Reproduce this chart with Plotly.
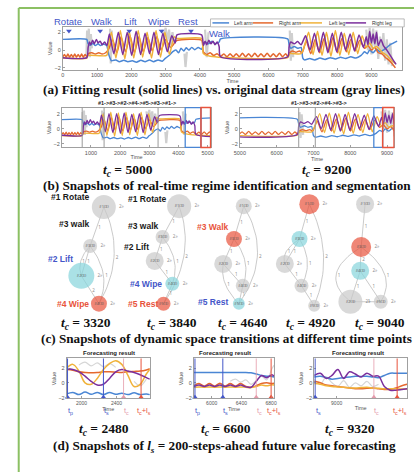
import numpy as np
import plotly.graph_objects as go

W, H = 417, 474

# ---------------- DATA ----------------
A_TIME_TICKS = [0, 1000, 2000, 3000, 4000, 5000, 6000, 7000, 8000, 9000]
B1_TIME_TICKS = [1000, 2000, 3000, 4000, 5000]
B2_TIME_TICKS = [5000, 6000, 7000, 8000, 9000]
D1_TIME_TICKS = [2000, 2400]
D2_TIME_TICKS = [6000, 6400, 6800]
D3_TIME_TICKS = [9000]
VALUE_TICKS = [-2, 0, 2]
SERIES_NAMES = ["Left arm", "Right arm", "Left leg", "Right leg"]

# fitted series (time, value)
left_arm = [(0, 1.2), (700, 1.2), (740, 0.7), (800, 0.55), (880, 0.75), (950, 0.5), (1030, 0.7), (1100, 0.5),
            (1180, 0.65), (1280, 0.5), (1350, -0.6), (1420, -1.2), (1550, -1.1), (1650, -1.3), (1780, -1.15),
            (1900, -1.3), (2030, -1.2), (2150, -1.35), (2280, -1.15), (2400, -1.3), (2530, -1.1), (2650, -1.3),
            (2780, -1.1), (2900, -1.25), (3000, -0.9), (3100, -0.6), (3200, -0.2), (3300, 0.0), (3380, -0.3),
            (3450, 0.2), (3530, -0.1), (3600, 0.25), (3680, 0.0), (3760, 0.3), (3850, 0.05), (3950, 0.3),
            (4050, 0.1), (4100, 0.6), (4150, 0.9), (4250, 0.7), (4350, 1.0), (4450, 0.7), (4560, 0.9),
            (4600, 1.25), (6560, 1.25), (6600, 0.6), (6650, 0.2), (6750, 0.4), (6850, 0.2), (6950, 0.3),
            (7000, -0.9), (7050, -1.1), (7200, -0.95), (7350, -1.1), (7500, -0.9), (7650, -1.05), (7800, -0.85),
            (7950, -1.0), (8100, -0.8), (8250, -0.95), (8400, -0.75), (8550, -0.9), (8700, -0.6), (8800, -0.2),
            (8880, -0.4), (8950, 0.0), (9050, -0.3), (9150, 0.1), (9250, -0.2), (9350, 0.0), (9450, 0.3),
            (9550, 0.6), (9650, 0.8), (9750, 1.0)]
right_arm = [(0, -0.75), (50, -0.5), (100, -0.8), (150, -0.45), (200, -0.8), (250, -0.5), (300, -0.8), (350, -0.45),
             (400, -0.8), (450, -0.5), (500, -0.8), (550, -0.45), (600, -0.8), (650, -0.5), (700, -0.75),
             (750, -0.4), (850, -0.3), (950, -0.45), (1050, -0.3), (1150, -0.45), (1250, -0.3), (1350, 0.2),
             (1450, 1.2), (1580, -0.3), (1700, 1.5), (1830, -0.2), (1960, 1.6), (2090, -0.3), (2220, 1.5),
             (2350, -0.2), (2480, 1.4), (2610, -0.1), (2740, 1.5), (2870, 0.0), (3000, 1.2), (3150, 0.3),
             (3300, 1.0), (3350, 1.1), (4050, 1.1), (4100, -0.2), (4200, -0.5), (4300, -0.3), (4400, -0.6),
             (4500, -0.4), (4600, -0.7), (4700, -0.45), (4790, -0.75), (4880, -0.4), (4970, -0.75), (5060, -0.4),
             (5150, -0.75), (5240, -0.35), (5330, -0.75), (5420, -0.4), (5510, -0.75), (5600, -0.35),
             (5690, -0.75), (5780, -0.4), (5870, -0.75), (5960, -0.35), (6050, -0.75), (6140, -0.4),
             (6230, -0.75), (6320, -0.35), (6410, -0.75), (6500, -0.4), (6560, -0.7), (6620, -0.3), (6700, -0.1),
             (6800, -0.25), (6900, -0.1), (6980, -0.3), (7100, 1.0), (7230, -0.4), (7360, 1.2), (7490, -0.3),
             (7620, 1.3), (7750, -0.2), (7880, 1.4), (8010, -0.3), (8140, 1.3), (8270, -0.2), (8400, 1.2),
             (8530, -0.1), (8660, 1.1), (8800, 0.2), (8900, 0.5), (9000, 0.0), (9100, 0.3), (9200, -0.3),
             (9300, -0.4), (9400, -0.8), (9500, -1.1), (9600, -1.5), (9700, -2.0)]
left_leg = [(0, -0.9), (700, -0.9), (740, -0.6), (1280, -0.6), (1330, 0.5), (1420, 2.0), (1550, -0.9), (1680, 2.2),
            (1810, -1.0), (1940, 2.1), (2070, -0.9), (2200, 2.2), (2330, -0.8), (2460, 2.0), (2590, -0.9),
            (2720, 2.2), (2850, -0.8), (2980, 2.0), (3110, -0.5), (3250, 1.5), (3320, 1.3), (4050, 1.3),
            (4100, -0.4), (4300, -0.7), (6560, -0.85), (6620, -0.4), (6950, -0.4), (7050, 0.5), (7170, 2.0),
            (7300, -0.5), (7430, 2.1), (7560, -0.6), (7690, 2.0), (7820, -0.7), (7950, 2.2), (8080, -0.6),
            (8210, 1.9), (8340, -0.5), (8470, 2.0), (8600, -0.4), (8730, 1.6), (8850, 0.3), (8950, 0.8),
            (9050, 0.2), (9150, 0.4), (9300, -0.2), (9450, -0.6), (9600, -1.2), (9700, -1.5)]
right_leg = [(0, -0.85), (700, -0.85), (740, 0.3), (780, 0.9), (820, 0.6), (870, 1.1), (920, 0.7), (980, 1.2),
             (1030, 0.8), (1090, 1.0), (1150, 0.6), (1220, 0.9), (1290, 0.5), (1360, 1.8), (1490, -0.4),
             (1620, 2.0), (1750, -0.5), (1880, 2.0), (2010, -0.6), (2140, 2.1), (2270, -0.5), (2400, 1.9),
             (2530, -0.4), (2660, 2.0), (2790, -0.5), (2920, 1.9), (3050, -0.2), (3180, 1.6), (3280, 0.8),
             (3330, 1.7), (4050, 1.7), (4100, 0.5), (4150, 1.0), (4200, 0.6), (4260, 1.1), (4320, 0.7),
             (4380, 1.0), (4440, 0.6), (4500, 0.9), (4560, 0.4), (4600, -0.75), (6560, -0.75), (6600, 0.4),
             (6650, 0.9), (6750, 0.7), (6850, 0.95), (6950, 0.6), (7080, 1.6), (7210, 0.0), (7340, 1.9),
             (7470, -0.2), (7600, 2.0), (7730, -0.3), (7860, 1.9), (7990, -0.2), (8120, 2.0), (8250, 0.0),
             (8380, 1.8), (8510, -0.1), (8640, 1.7), (8770, 0.3), (8850, 1.5), (8900, 0.6), (8950, 2.1),
             (9000, 0.8), (9050, 1.8), (9100, 0.7), (9150, 2.0), (9200, 0.5), (9280, 1.2), (9350, 0.5),
             (9450, 0.0), (9550, -0.6), (9650, -1.2), (9720, -1.6)]
# original stream (gray), visible pieces only
raw_stream = [(690, -0.6), (710, 2.2), (730, 0.0), (760, 2.4), (790, -0.8), (820, 1.8), (850, 0.2), (860, None),
              (1380, 2.4), (1400, -1.5), (1430, 2.2), (1440, None),
              (2900, 2.3), (2950, 1.2), (3000, 2.5), (3050, 1.0), (3100, 2.3), (3150, 0.5), (3200, 2.0),
              (3250, 0.8), (3260, None),
              (3550, -0.4), (3580, -1.9), (3620, -0.2), (3630, None),
              (4150, 2.3), (4200, -0.8), (4250, 2.0), (4260, None),
              (6620, 2.2), (6650, -1.2), (6680, 1.9), (6720, -0.8), (6730, None),
              (8850, 2.3), (8900, 0.0), (8950, 2.5), (9000, -0.5), (9050, 2.4), (9100, 0.3), (9150, 2.2),
              (9200, -1.0), (9250, 1.5), (9300, -0.5), (9350, 1.9), (9400, -1.2), (9450, 1.2), (9500, -1.6),
              (9550, 0.8), (9600, -1.8)]

# regime labels of panel (a)
regime_names = ["Rotate", "Walk", "Lift", "Wipe", "Rest"]
regime_label_t = [150, 1140, 1970, 2820, 3650]
regime_arrow_t = [180, 1090, 1940, 2880, 3740]
walk2_label_t = 4560

# panel (b) segmentation
b1_title = "#1->#3->#2->#4->#5->#3->#1->"
b2_title = "#1->#3->#2->#4->#3->"
b1_bounds = [700, 1450, 3300]
b1_blue = [4230, 4770]
b1_red = [4770, 5100]
b2_bounds = [6600, 7050]
b2_blue = [8640, 8880]
b2_red = [8880, 9190]
b_tc = [5000, 9200]

# panel (c) regime-transition graphs (node layout)
c_tc = [3320, 3840, 4640, 4920, 9040]
graphs = [
    dict(x=[100, 86, 77, 95], y=[208, 247, 277, 305], size=[24, 14, 26, 16],
         state=[0, 0, 1, 2], ids=["#1", "#3", "#2", "#4"],
         edges=[(0, 1, 0, 1), (1, 2, 0, 1), (2, 3, 0, 2), (0, 3, 26, 2), (1, 3, 18, 1), (1, 2, -10, 1)]),
    dict(x=[177, 160, 152, 170, 161], y=[207, 238, 262, 285, 305], size=[24, 14, 18, 14, 14],
         state=[0, 0, 0, 1, 2], ids=["#1", "#3", "#2", "#4", "#5"],
         edges=[(0, 1, 0, 1), (1, 2, 0, 1), (2, 3, 0, 1), (3, 4, 0, 1), (0, 4, 26, 2), (1, 3, 14, 1)]),
    dict(x=[243, 233, 222, 242, 238], y=[207, 240, 265, 287, 305], size=[16, 16, 18, 14, 12],
         state=[0, 2, 0, 0, 1], ids=["#1", "#3", "#2", "#4", "#5"],
         edges=[(0, 1, 0, 1), (1, 2, 0, 1), (2, 3, 0, 1), (3, 4, 0, 1), (0, 4, 33, 2), (1, 3, 14, 1),
                (2, 4, -12, 1)]),
    dict(x=[310, 300, 285, 302, 315], y=[205, 240, 265, 287, 307], size=[20, 16, 18, 14, 12],
         state=[2, 1, 0, 0, 0], ids=["#1", "#3", "#2", "#4", "#5"],
         edges=[(0, 1, 0, 1), (1, 2, 0, 1), (2, 3, 0, 1), (3, 4, 0, 1), (0, 4, 24, 2), (1, 3, 14, 1),
                (1, 2, -12, 1)]),
    dict(x=[367, 363, 362, 352, 383], y=[205, 248, 272, 303, 303], size=[18, 20, 18, 24, 14],
         state=[0, 2, 1, 0, 0], ids=["#1", "#3", "#4", "#2", "#5"],
         edges=[(0, 1, 0, 1), (1, 2, 0, 2), (2, 3, 0, 1), (2, 4, 0, 1), (1, 3, -40, 1), (1, 4, 28, 1),
                (3, 4, 0, 1)]),
]
c_labels = [("#1 Rotate", 66, 198, "k"), ("#3 walk", 70, 225, "k"), ("#2 Lift", 56, 260, "b"),
            ("#4 Wipe", 68, 305, "r"),
            ("#1 Rotate", 145, 200, "k"), ("#3 walk", 141, 227, "k"), ("#2 Lift", 133, 248, "k"),
            ("#4 Wipe", 143, 285, "b"), ("#5 Rest", 140, 305, "r"),
            ("#3 Walk", 212, 228, "r"), ("#5 Rest", 212, 303, "b")]

# panel (d) forecasting windows
fc1_t = [1830, 1900, 1970, 2040, 2110, 2180, 2250, 2320, 2390, 2460, 2530, 2600, 2670, 2740, 2780]
fc1_left_arm = [-1.5, -1.3, -1.6, -1.25, -1.55, -1.3, -1.6, -1.3, -1.55, -1.4, -1.6, -1.35, -1.6, -1.5, -1.6]
fc1_right_arm = [1.8, 1.7, 1.5, 1.4, 1.35, 1.4, 1.5, 1.5, 1.45, 1.4, 1.5, 1.55, 1.6, 1.75, 1.9]
fc1_left_leg = [2.0, 2.5, 1.6, 0.0, -0.2, 0.6, 1.8, 2.6, 3.0, 2.5, 1.0, -0.5, -0.2, 1.2, 1.8]
fc1_right_leg = [1.9, 1.8, 1.5, 0.9, 0.2, -0.3, -0.2, 0.6, 1.5, 1.8, 1.6, 1.4, 1.1, 0.7, 0.5]
fc1_raw = [None, None, 2.4, 2.8, 2.3, 2.7, 2.2, 2.6, 2.1, None, None, 0.2, -0.4, 0.5, None]
fc1_marks = [1840, 2250, 2480, 2680]
fc1_mark_kind = ["p", "s", "c", "cl"]

fc2_t = [5760, 5830, 5900, 5970, 6040, 6110, 6180, 6250, 6320, 6390, 6460, 6530, 6600, 6670, 6740, 6810, 6840]
fc2_left_arm = [1.4, 1.4, 1.4, 1.4, 1.4, 1.4, 1.4, 1.4, 1.4, 1.4, 1.4, 1.35, 1.2, 1.0, 0.9, 0.85, 0.8]
fc2_right_arm = [-0.4, -0.1, -0.45, -0.1, -0.45, -0.05, -0.45, -0.1, -0.45, -0.1, -0.5, -0.6, -0.4, -0.1, 0.0,
                 -0.1, -0.05]
fc2_left_leg = [-0.6, -0.55, -0.6, -0.55, -0.6, -0.55, -0.6, -0.55, -0.6, -0.55, -0.6, -0.65, -0.5, -0.3, -0.4,
                -0.25, -0.3]
fc2_right_leg = [-0.5, -0.3, -0.5, -0.3, -0.5, -0.3, -0.5, -0.3, -0.5, -0.3, -0.55, -0.6, 0.2, 1.0, 0.7, 1.1, 0.9]
fc2_raw = [None, None, None, None, None, None, None, 0.2, 0.5, 0.1, 0.4, -0.2, 0.3, 0.9, 0.4, 1.9, 2.4]
fc2_marks = [5775, 6150, 6600, 6800]
fc2_mark_kind = ["p", "s", "c", "cl"]

fc3_t = [8807, 8860, 8910, 8960, 9010, 9060, 9110, 9160, 9210, 9260, 9310, 9360, 9410, 9460, 9510, 9560, 9606]
fc3_left_arm = [0.8, 0.9, 0.7, 0.5, 0.6, 0.7, 0.8, 0.9, 0.85, 0.9, 0.8, 0.7, 1.0, 1.3, 1.3, 1.3, 1.3]
fc3_right_arm = [0.2, 0.0, -0.3, -0.4, -0.5, -0.6, -0.7, -0.8, -0.8, -0.75, -0.7, -0.8, -0.9, -0.9, -0.7, -0.4,
                 -0.2]
fc3_left_leg = [-0.1, -0.2, -0.4, -0.5, -0.55, -0.6, -0.7, -0.7, -0.65, -0.6, -0.7, -0.75, -0.8, -0.8, -0.8,
                -0.85, -0.85]
fc3_right_leg = [1.0, 1.3, 0.6, 1.0, 1.8, 0.6, 1.5, 1.2, 0.8, 1.3, 0.9, 0.9, -0.5, -1.0, -1.0, -0.9, -0.8]
fc3_raw = [0.5, -0.2, 0.8, 0.0, -0.5, 0.3, -0.6, 0.0, -0.4, 0.2, -0.5, -0.2, None, None, None, None, None]
fc3_marks = [8815, 9320, 9520]
fc3_mark_kind = ["s", "c", "cl"]
d_tc = [2480, 6600, 9320]

# ---------------- STYLE ----------------
C_BLUE = "#4a86d4"
C_ORANGE = "#e4682e"
C_YELLOW = "#f0b23a"
C_PURPLE = "#7b2f9c"
C_GRAY = "#cfcfcf"
SERIES_COLORS = [C_BLUE, C_ORANGE, C_YELLOW, C_PURPLE]
TXT_BLUE = "#4456c8"
TXT_RED = "#e8533c"
NODE_COL = {0: "#c9c9c9", 1: "#86d4dc", 2: "#e8533c"}
LAB_COL = {"k": "#1a1a1a", "b": TXT_BLUE, "r": TXT_RED}
MARK_COL = {"p": TXT_BLUE, "s": TXT_BLUE, "c": "#e49aaa", "cl": TXT_RED}
MARK_TXT = {"p": "t<sub>p</sub>", "s": "t<sub>s</sub>", "c": "t<sub>c</sub>",
            "cl": "t<sub>c</sub>+l<sub>s</sub>"}
SANS = "Liberation Sans"
SERIF = "Liberation Serif"

fig = go.Figure()


def line_trace(t, v, xa, ya, color, width, shape="linear", smoothing=1.0):
    line = dict(color=color, width=width, shape=shape)
    if shape == "spline":
        line["smoothing"] = smoothing
    fig.add_trace(go.Scatter(x=t, y=v, xaxis=xa, yaxis=ya, mode="lines", connectgaps=False,
                             line=line, showlegend=False, hoverinfo="skip"))


fitted = [left_arm, right_arm, left_leg, right_leg]
for xa, ya, w in [("x", "y", 1.5), ("x2", "y2", 1.3), ("x3", "y3", 1.3)]:
    line_trace([p[0] for p in raw_stream], [p[1] for p in raw_stream], xa, ya, C_GRAY, 2.2)
    for pts, col in zip(fitted, SERIES_COLORS):
        line_trace([p[0] for p in pts], [p[1] for p in pts], xa, ya, col, w, "spline", 0.6)

# regime arrows (panel a)
fig.add_trace(go.Scatter(x=regime_arrow_t, y=[2.15] * len(regime_arrow_t), xaxis="x", yaxis="y",
                         mode="markers", marker=dict(symbol="triangle-down", size=5, color=TXT_BLUE),
                         cliponaxis=False, showlegend=False, hoverinfo="skip"))

fc_sets = [
    ("x4", "y4", fc1_t, fc1_raw, [fc1_left_arm, fc1_right_arm, fc1_left_leg, fc1_right_leg], fc1_marks,
     fc1_mark_kind),
    ("x5", "y5", fc2_t, fc2_raw, [fc2_left_arm, fc2_right_arm, fc2_left_leg, fc2_right_leg], fc2_marks,
     fc2_mark_kind),
    ("x6", "y6", fc3_t, fc3_raw, [fc3_left_arm, fc3_right_arm, fc3_left_leg, fc3_right_leg], fc3_marks,
     fc3_mark_kind),
]
for xa, ya, t, raw, vals, marks, kinds in fc_sets:
    line_trace(t, raw, xa, ya, "#d6d6d6", 1.2, "spline")
    for v, col in zip(vals, SERIES_COLORS):
        line_trace(t, v, xa, ya, col, 1.5, "spline")
    fig.add_trace(go.Scatter(x=marks, y=[-1.95] * len(marks), xaxis=xa, yaxis=ya, mode="markers",
                             marker=dict(symbol="triangle-up", size=5, color=[MARK_COL[k] for k in kinds]),
                             cliponaxis=False, showlegend=False, hoverinfo="skip"))
    for m, k in zip(marks, kinds):
        fig.add_shape(type="line", xref=xa, yref=ya + " domain", x0=m, x1=m, y0=0, y1=1,
                      line=dict(color=MARK_COL[k], width=1 if k != "c" else 0.8))
        fig.add_annotation(text=MARK_TXT[k], x=m, y=413, xref=xa, yref="y7", showarrow=False, xshift=3,
                           font=dict(family=SANS, size=7.5, color=MARK_COL[k]), xanchor="center")

# panel (c) graphs on a pixel-space overlay axis
for g in graphs:
    ex, ey = [], []
    wx, wy, wt = [], [], []
    for i, j, bend, wgt in g["edges"]:
        x0, y0, x1, y1 = g["x"][i], g["y"][i], g["x"][j], g["y"][j]
        cx, cy = (x0 + x1) / 2 + bend, (y0 + y1) / 2
        s = np.linspace(0, 1, 24)
        bx = (1 - s) ** 2 * x0 + 2 * (1 - s) * s * cx + s ** 2 * x1
        by = (1 - s) ** 2 * y0 + 2 * (1 - s) * s * cy + s ** 2 * y1
        ex += list(bx) + [None]
        ey += list(by) + [None]
        wx.append(bx[12] + 3)
        wy.append(by[12])
        wt.append(str(wgt))
    fig.add_trace(go.Scatter(x=ex, y=ey, xaxis="x7", yaxis="y7", mode="lines",
                             line=dict(color="#bdbdbd", width=0.8), showlegend=False, hoverinfo="skip"))
    fig.add_trace(go.Scatter(x=wx, y=wy, xaxis="x7", yaxis="y7", mode="text", text=wt,
                             textfont=dict(size=4.5, color="#888"), showlegend=False, hoverinfo="skip"))
    fig.add_trace(go.Scatter(x=g["x"], y=g["y"], xaxis="x7", yaxis="y7", mode="markers+text",
                             marker=dict(size=g["size"], color=[NODE_COL[s] for s in g["state"]],
                                         line=dict(width=0)),
                             text=[n + "(3)" for n in g["ids"]], textfont=dict(size=4, color="#555"),
                             textposition="middle center", showlegend=False, hoverinfo="skip"))
    fig.add_trace(go.Scatter(x=[xx + s_ / 2 + 6 for xx, s_ in zip(g["x"], g["size"])], y=g["y"],
                             xaxis="x7", yaxis="y7", mode="text", text=["2»"] * len(g["x"]),
                             textfont=dict(size=4.5, color="#888"), showlegend=False, hoverinfo="skip"))

# ---------------- AXES ----------------
axis_font = dict(family=SANS, size=5.5, color="#555555")
common = dict(showline=True, linecolor="#a0a0a0", linewidth=0.8, mirror=True, showgrid=False, zeroline=False,
              ticks="inside", ticklen=2, tickcolor="#a0a0a0", tickfont=axis_font)
panels = {
    "": (58, 405, 27, 70, [0, 9900], [-2.2, 2.6], A_TIME_TICKS),
    "2": (57, 210, 108, 148, [0, 5130], [-2.45, 2.8], B1_TIME_TICKS),
    "3": (239, 397, 108, 148, [5000, 9200], [-2.45, 2.8], B2_TIME_TICKS),
    "4": (62, 147, 360, 400, [1830, 2780], [-2.1, 3.3], D1_TIME_TICKS),
    "5": (192, 274, 360, 400, [5760, 6840], [-2.1, 3.3], D2_TIME_TICKS),
    "6": (315, 410, 360, 400, [8807, 9606], [-2.1, 3.3], D3_TIME_TICKS),
}
layout = dict(width=W, height=H, margin=dict(l=0, r=0, t=0, b=0), paper_bgcolor="white",
              plot_bgcolor="rgba(0,0,0,0)", showlegend=False)
for k, (x0, x1, y0, y1, xr, yr, xt) in panels.items():
    xfont = axis_font if k in ("", "2", "3") else dict(family=SANS, size=5, color="#555555")
    layout["xaxis" + k] = dict(domain=[x0 / W, x1 / W], range=xr, tickvals=xt, anchor="y" + k,
                               title=dict(text="Time", font=axis_font, standoff=0), **common)
    layout["xaxis" + k]["tickfont"] = xfont
    layout["yaxis" + k] = dict(domain=[1 - y1 / H, 1 - y0 / H], range=yr, tickvals=VALUE_TICKS,
                               anchor="x" + k, title=dict(text="Value", font=axis_font, standoff=1), **common)
layout["xaxis7"] = dict(domain=[0, 1], range=[0, W], visible=False, anchor="y7")
layout["yaxis7"] = dict(domain=[0, 1], range=[H, 0], visible=False, anchor="x7")
fig.update_layout(**layout)


def txt(text, x, y, size, color="#222", family=SANS, xanchor="center", xref="x7", yref="y7"):
    fig.add_annotation(text=text, x=x, y=y, xref=xref, yref=yref, showarrow=False, xanchor=xanchor,
                       yanchor="middle", font=dict(size=size, color=color, family=family))


# green frame
fig.add_shape(type="line", xref="x7", yref="y7", x0=13, x1=13, y0=8, y1=H, line=dict(color="#8cc063", width=2))
fig.add_shape(type="line", xref="x7", yref="y7", x0=13, x1=W, y0=8, y1=8, line=dict(color="#8cc063", width=2))

# panel (a) regime labels
for name, t in zip(regime_names, regime_label_t):
    txt(name, t, 22, 9.5, TXT_BLUE, xref="x")
txt("Walk", walk2_label_t, 34, 9.5, TXT_BLUE, xref="x")

# manual legend
fig.add_shape(type="rect", xref="x7", yref="y7", x0=209, x1=407, y0=19, y1=27,
              line=dict(color="#aaaaaa", width=0.8), fillcolor="white")
leg_pos = [(211, 228, 231), (252, 273, 277), (300, 323, 328), (347, 368, 372)]
for (l0, l1, tx), name, col in zip(leg_pos, SERIES_NAMES, SERIES_COLORS):
    fig.add_shape(type="line", xref="x7", yref="y7", x0=l0, x1=l1, y0=23, y1=23, line=dict(color=col, width=1.5))
    txt(name, tx, 23, 5, "#333", xanchor="left")

# panel (b) boxes
for xa, bounds, blue, red in [("x2", b1_bounds, b1_blue, b1_red), ("x3", b2_bounds, b2_blue, b2_red)]:
    ya = "y" + xa[1:] + " domain"
    for b in bounds:
        fig.add_shape(type="line", xref=xa, yref=ya, x0=b, x1=b, y0=0, y1=1, line=dict(color="#9a9a9a", width=1))
    fig.add_shape(type="rect", xref=xa, yref=ya, x0=blue[0], x1=blue[1], y0=0, y1=1,
                  line=dict(color=C_BLUE, width=1.3))
    fig.add_shape(type="rect", xref=xa, yref=ya, x0=red[0], x1=red[1], y0=0, y1=1,
                  line=dict(color=TXT_RED, width=1.5))
txt("<b>" + b1_title + "</b>", 134, 103, 5.5, "#222")
txt("<b>" + b2_title + "</b>", 320, 103, 5.5, "#222")

tc_fmt = "<b><i>t<sub>c</sub></i> = {}</b>"
txt(tc_fmt.format(b_tc[0]), 125, 171, 13.5, "#111", SERIF)
txt(tc_fmt.format(b_tc[1]), 328, 171, 13.5, "#111", SERIF)

# panel (c) labels
for text, x, y, c in c_labels:
    txt("<b>" + text + "</b>", x, y, 8.5, LAB_COL[c])
for tc, x in zip(c_tc, [82, 170, 242, 312, 382]):
    txt(tc_fmt.format(tc), x, 325, 13.5, "#111", SERIF)

# panel (d) titles and t_c labels
for x in [105, 224, 360]:
    txt("<b>Forecasting result</b>", x, 354, 6, "#222")
for tc, x in zip(d_tc, [100, 225, 352]):
    txt(tc_fmt.format(tc), x, 431, 13.5, "#111", SERIF)

# captions
CAP = 13.2
txt("<b>(a) Fitting result (solid lines) vs. original data stream (gray lines)</b>", 223, 90, CAP, "#111", SERIF)
txt("<b>(b) Snapshots of real-time regime identification and segmentation</b>", 226, 186, CAP, "#111", SERIF)
txt("<b>(c) Snapshots of dynamic space transitions at different time points</b>", 225, 340, CAP, "#111", SERIF)
txt("<b>(d) Snapshots of <i>l<sub>s</sub></i> = 200-steps-ahead future value forecasting</b>", 223, 448, CAP,
    "#111", SERIF)

fig.write_html("out.html", config={"displayModeBar": False},
               post_script="document.body.style.margin='0';document.body.style.overflow='hidden';")
